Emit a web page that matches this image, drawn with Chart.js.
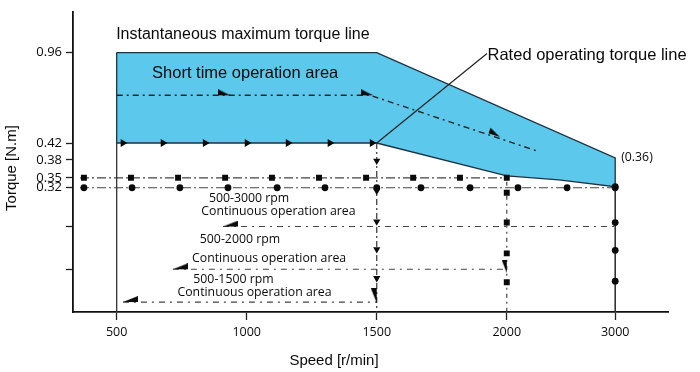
<!DOCTYPE html>
<html>
<head>
<meta charset="utf-8">
<script src="https://cdn.jsdelivr.net/npm/chart.js@4.4.1/dist/chart.umd.min.js"></script>
<style>
  body { margin: 0; background: #fff; }
  #wrap { width: 700px; height: 372px; }
</style>
</head>
<body>
<div id="wrap"><canvas id="torqueChart" width="700" height="372"></canvas></div>
<script>
// schematic axes: tick labels and where they sit on the drawing
const speedTickLabels = ["500", "1000", "1500", "2000", "3000"];
const speedTickPos = [500, 1000, 1500, 2000, 2417];
const torqueTickLabels = ["0.96", "0.42", "0.38", "0.35", "0.32", "", ""];
const torqueTickPos = [261, 170, 153, 135, 125, 86, 43];

// instantaneous maximum torque line (top of blue area)
const maxLineX = [500, 1500, 2417];
const maxLineY = [261, 261, 155];
// rated operating torque line (bottom of blue area)
const ratedLineX = [500, 1500, 2000, 2200, 2417];
const ratedLineY = [170, 170, 137, 133, 126];
const ratedArrowX = [524, 678, 840, 1001, 1159, 1320, 1482];

// short time operation path
const shortLineX = [500, 1475, 2116];
const shortLineY = [218, 218, 162];
const shortArrowX = [936, 1486, 1974];
const shortArrowY = [218, 218, 176];

// 0.35 row (squares) and 0.32 row (circles)
const rowSquareX = [374, 555, 736, 917, 1097, 1278, 1459, 1640, 1820, 2000];
const rowCircleX = [374, 559, 743, 928, 1117, 1301, 1500, 1670, 1859, 2043, 2232, 2417];

// columns at 1500 / 2000 / 3000
const col1500Y = [152, 122, 91, 63, 34];
const col2000Y = [120, 90, 59, 30];
const col3000Y = [126, 90, 62, 31];

// continuous operation ranges (start speed, end speed, level)
const cont3000 = [909, 2417, 86];
const cont2000 = [716, 1986, 43];
const cont1500 = [524, 1500, 10];

const INK = "#0a0a0a";

function pts(xs, ys) {
  return xs.map((x, i) => ({ x, y: Array.isArray(ys) ? ys[i] : ys }));
}

// half arrow heads, anchored on their tip (canvas centre)
function wedge(w, h, kind) {
  const c = document.createElement("canvas");
  c.width = w * 2;
  c.height = h * 2;
  const g = c.getContext("2d");
  g.fillStyle = INK;
  g.beginPath();
  if (kind === "left") { g.moveTo(w, h); g.lineTo(2 * w, h); g.lineTo(2 * w, 0); }
  if (kind === "right") { g.moveTo(w, h); g.lineTo(0, h); g.lineTo(0, 0); }
  if (kind === "down") { g.moveTo(w, h); g.lineTo(w, 0); g.lineTo(0, 0); }
  g.closePath();
  g.fill();
  return c;
}
const wLeft = wedge(15, 6, "left");
const wRight = wedge(12, 6, "right");
const wDown = wedge(6, 15, "down");
const wDownSmall = wedge(5, 13, "down");

const dashDot = [9, 3, 2, 3];

function line(data, extra) {
  return Object.assign({
    data, showLine: true, pointRadius: 0, borderColor: "#222",
    borderWidth: 1.2, fill: false, order: 1
  }, extra);
}
function marks(data, style, extra) {
  return Object.assign({
    data, showLine: false, pointStyle: style, pointRadius: 3.5,
    backgroundColor: INK, borderColor: INK, borderWidth: 0, order: 0
  }, extra);
}

const area = pts(maxLineX, maxLineY).concat(pts(ratedLineX, ratedLineY).reverse());
area.push(area[0]);

const datasets = [
  line(area, { fill: "shape", backgroundColor: "#5bc8ec", borderColor: "#1e3140", borderWidth: 1.3, order: 10 }),
  line(pts([500, 500], [170, 0]), { borderColor: "#333", borderWidth: 1.3 }),
  line(pts([1500, 1924], [170, 260]), { borderColor: "#222", borderWidth: 1.2 }),
  marks(pts(ratedArrowX, 170), "triangle", { pointRadius: 4.5, pointRotation: 90 }),
  line(pts(shortLineX, shortLineY), { borderDash: [6, 4, 2, 4], borderWidth: 1.4 }),
  marks(pts(shortArrowX, shortArrowY), wRight, { pointRotation: [0, 0, 18] }),
  line(pts([359, 2000], 135), { borderDash: dashDot, borderColor: "#444" }),
  marks(pts(rowSquareX, 135), "rect", { pointRadius: 4.2 }),
  line(pts([359, 2417], 125), { borderDash: dashDot, borderColor: "#444" }),
  marks(pts(rowCircleX, 125), "circle", { pointRadius: 3.4 }),
  line(pts([1500, 1500], [170, 0]), { borderDash: [6, 3, 2, 3], borderColor: "#333" }),
  marks(pts(Array(col1500Y.length).fill(1500), col1500Y), "triangle", { pointRadius: 4.2, pointRotation: 180 }),
  line(pts([2000, 2000], [137, 0]), { borderDash: [2, 4, 4, 4], borderColor: "#444" }),
  marks(pts(Array(col2000Y.length).fill(2000), col2000Y), "rect", { pointRadius: 4.2 }),
  line(pts([2417, 2417], [126, 0]), { borderColor: "#333", borderWidth: 1.6 }),
  marks(pts(Array(col3000Y.length).fill(2417), col3000Y), "circle", { pointRadius: 3.4 }),
  line(pts(cont3000.slice(0, 2), cont3000[2]), { borderDash: [6, 5, 2, 5], borderColor: "#444" }),
  line(pts(cont2000.slice(0, 2), cont2000[2]), { borderDash: [6, 5, 2, 5], borderColor: "#444" }),
  line(pts(cont1500.slice(0, 2), cont1500[2]), { borderDash: [6, 5, 2, 5], borderColor: "#444" }),
  marks(pts([cont3000[0], cont2000[0], cont1500[0]], [cont3000[2], cont2000[2], cont1500[2]]), wLeft),
  marks(pts([1500, 2000], [9, 39]), [wDown, wDownSmall])
];

// text notes placed in chart units
const bigFont = "16.5px 'Liberation Sans', Arial, sans-serif";
const smallFont = "12.3px 'Open Sans', sans-serif";
const notes = [
  { text: "Instantaneous maximum torque line", x: 498, y: 279, font: "16px 'Liberation Sans', Arial, sans-serif", align: "left" },
  { text: "Short time operation area", x: 636, y: 240, font: bigFont, align: "left" },
  { text: "Rated operating torque line", x: 1926, y: 258, font: bigFont, align: "left" },
  { text: "(0.36)", x: 2440, y: 155, font: "12.3px 'Open Sans', sans-serif", align: "left" },
  { text: "500-3000 rpm", x: 1009, y: 114, font: smallFont, align: "center" },
  { text: "Continuous operation area", x: 1122, y: 101, font: smallFont, align: "center" },
  { text: "500-2000 rpm", x: 974, y: 73, font: smallFont, align: "center" },
  { text: "Continuous operation area", x: 1086, y: 54, font: smallFont, align: "center" },
  { text: "500-1500 rpm", x: 949, y: 33, font: smallFont, align: "center" },
  { text: "Continuous operation area", x: 1030, y: 20, font: smallFont, align: "center" }
];

const notesPlugin = {
  id: "notes",
  afterDatasetsDraw(chart) {
    const { ctx, scales } = chart;
    ctx.save();
    ctx.fillStyle = INK;
    ctx.textBaseline = "middle";
    notes.forEach(n => {
      ctx.font = n.font;
      ctx.textAlign = n.align;
      ctx.fillText(n.text, scales.x.getPixelForValue(n.x), scales.y.getPixelForValue(n.y));
    });
    // axis titles
    ctx.font = "15px 'Liberation Sans', Arial, sans-serif";
    ctx.textAlign = "center";
    ctx.fillText("Speed [r/min]", 334, 361);
    ctx.translate(12, 168);
    ctx.rotate(-Math.PI / 2);
    ctx.fillText("Torque [N.m]", 0, 0);
    ctx.restore();
  }
};

new Chart(document.getElementById("torqueChart"), {
  type: "scatter",
  data: { datasets },
  plugins: [notesPlugin],
  options: {
    responsive: false,
    animation: false,
    layout: { padding: { top: 10, right: 32, left: 0, bottom: 0 } },
    plugins: { legend: { display: false }, tooltip: { enabled: false } },
    scales: {
      x: {
        type: "linear",
        min: 332,
        max: 2620,
        afterBuildTicks: axis => { axis.ticks = speedTickPos.map(v => ({ value: v })); },
        afterFit: axis => { axis.height = 60; },
        ticks: {
          autoSkip: false, maxRotation: 0, padding: 5, color: INK,
          font: { family: "'Open Sans', sans-serif", size: 12.5 },
          callback: (v, i) => speedTickLabels[i]
        },
        grid: { drawOnChartArea: false, drawTicks: true, tickLength: 8, tickColor: "#222", tickWidth: 1.3 },
        border: { color: "#111", width: 1.8 }
      },
      y: {
        type: "linear",
        min: 0,
        max: 302,
        afterBuildTicks: axis => { axis.ticks = torqueTickPos.map(v => ({ value: v })); },
        afterFit: axis => { axis.width = 73; },
        ticks: {
          autoSkip: false, padding: 4, color: INK,
          font: { family: "'Open Sans', sans-serif", size: 13 },
          callback: (v, i) => torqueTickLabels[i]
        },
        grid: { drawOnChartArea: false, drawTicks: true, tickLength: 7, tickColor: "#222", tickWidth: 1.3 },
        border: { color: "#111", width: 1.8 }
      }
    }
  }
});
</script>
</body>
</html>
